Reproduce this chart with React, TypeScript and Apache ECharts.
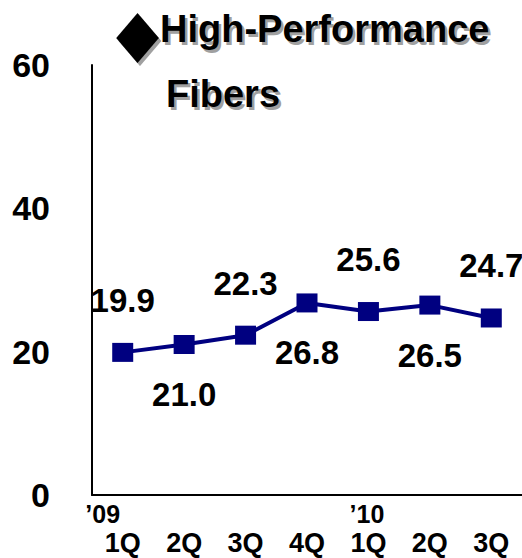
import React, { useEffect, useRef } from 'react';
import * as echarts from 'echarts';

const quarters = ['1Q', '2Q', '3Q', '4Q', '1Q', '2Q', '3Q'];
const years = ['\u201909', '', '', '', '\u201910', '', ''];
const values = [19.9, 21.0, 22.3, 26.8, 25.6, 26.5, 24.7];
const labelSides = ['top', 'bottom', 'top', 'bottom', 'top', 'bottom', 'top'];
const yMin = 0;
const yMax = 60;
const yInterval = 20;
const titleMark = '\u25C6';
const titleLine1 = 'High-Performance';
const titleLine2 = 'Fibers';

const SANS = '"Liberation Sans", Arial, sans-serif';
const SHADOW = '#a0a0a0';

export default function App() {
  const ref = useRef<HTMLDivElement>(null);
  useEffect(() => {
    if (!ref.current) return;
    const chart = echarts.init(ref.current, undefined, { renderer: 'svg' });
    const titleText = (text: string, x: number, y: number, size: number, family: string, fill: string, extra: any = {}, styleExtra: any = {}) => ({
      type: 'text',
      x,
      y,
      silent: true,
      ...extra,
      style: { text, fontSize: size, fontWeight: 'bold', fill, fontFamily: family, textVerticalAlign: 'top', ...styleExtra },
    });
    const titleParts = (dx: number, fill: string) => [
      titleText(titleMark, 116 + dx, 32 + dx, 56, '"DejaVu Sans", sans-serif', fill, { scaleX: 1.0, scaleY: 1.17 }, { textVerticalAlign: 'middle', lineHeight: 44 }),
      titleText(titleLine1, 160 + dx, 10 + dx, 38, SANS, fill),
      titleText(titleLine2, 166 + dx, 75 + dx, 38, SANS, fill),
    ];
    chart.setOption({
      animation: false,
      backgroundColor: '#fff',
      grid: { left: 92, right: 0, top: 65, bottom: 63 },
      xAxis: [
        {
          type: 'category',
          data: quarters,
          boundaryGap: true,
          axisLine: { lineStyle: { color: '#000', width: 2 } },
          axisTick: { show: false },
          axisLabel: { interval: 0, fontSize: 27, fontWeight: 'bold', color: '#000', fontFamily: SANS, margin: 34 },
        },
        {
          type: 'category',
          data: years,
          position: 'bottom',
          boundaryGap: true,
          axisLine: { show: false },
          axisTick: { show: false },
          axisLabel: {
            interval: 0,
            margin: 6,
            formatter: (v: string, i: number) => (v ? (i === 0 ? `{a|${v}}` : `{b|${v}}`) : ''),
            rich: {
              a: { fontSize: 25, fontWeight: 'bold', color: '#000', fontFamily: SANS, padding: [0, 40, 0, 0] },
              b: { fontSize: 25, fontWeight: 'bold', color: '#000', fontFamily: SANS, padding: [0, 3, 0, 0] },
            },
          },
        },
      ],
      yAxis: {
        type: 'value',
        min: yMin,
        max: yMax,
        interval: yInterval,
        axisLine: { show: true, lineStyle: { color: '#000', width: 2 } },
        axisTick: { show: false },
        splitLine: { show: false },
        axisLabel: { fontSize: 34, fontWeight: 'bold', color: '#000', fontFamily: SANS, margin: 42 },
      },
      series: [
        {
          type: 'line',
          data: values.map((v, i) => ({
            value: v,
            label: { position: 'inside', offset: [0, labelSides[i] === 'top' ? -52 : 50] },
          })),
          symbol: 'rect',
          symbolSize: [21, 19],
          lineStyle: { color: '#000080', width: 4 },
          itemStyle: { color: '#000080' },
          label: {
            show: true,
            formatter: (p: any) => p.value.toFixed(1),
            fontSize: 33,
            fontWeight: 'bold',
            color: '#000',
            fontFamily: SANS,
          },
        },
      ],
      graphic: [...titleParts(2.5, SHADOW), ...titleParts(0, '#000')],
    });
    return () => chart.dispose();
  }, []);
  return <div ref={ref} style={{ width: 522, height: 558, position: 'absolute', left: 0, top: 0 }} />;
}
